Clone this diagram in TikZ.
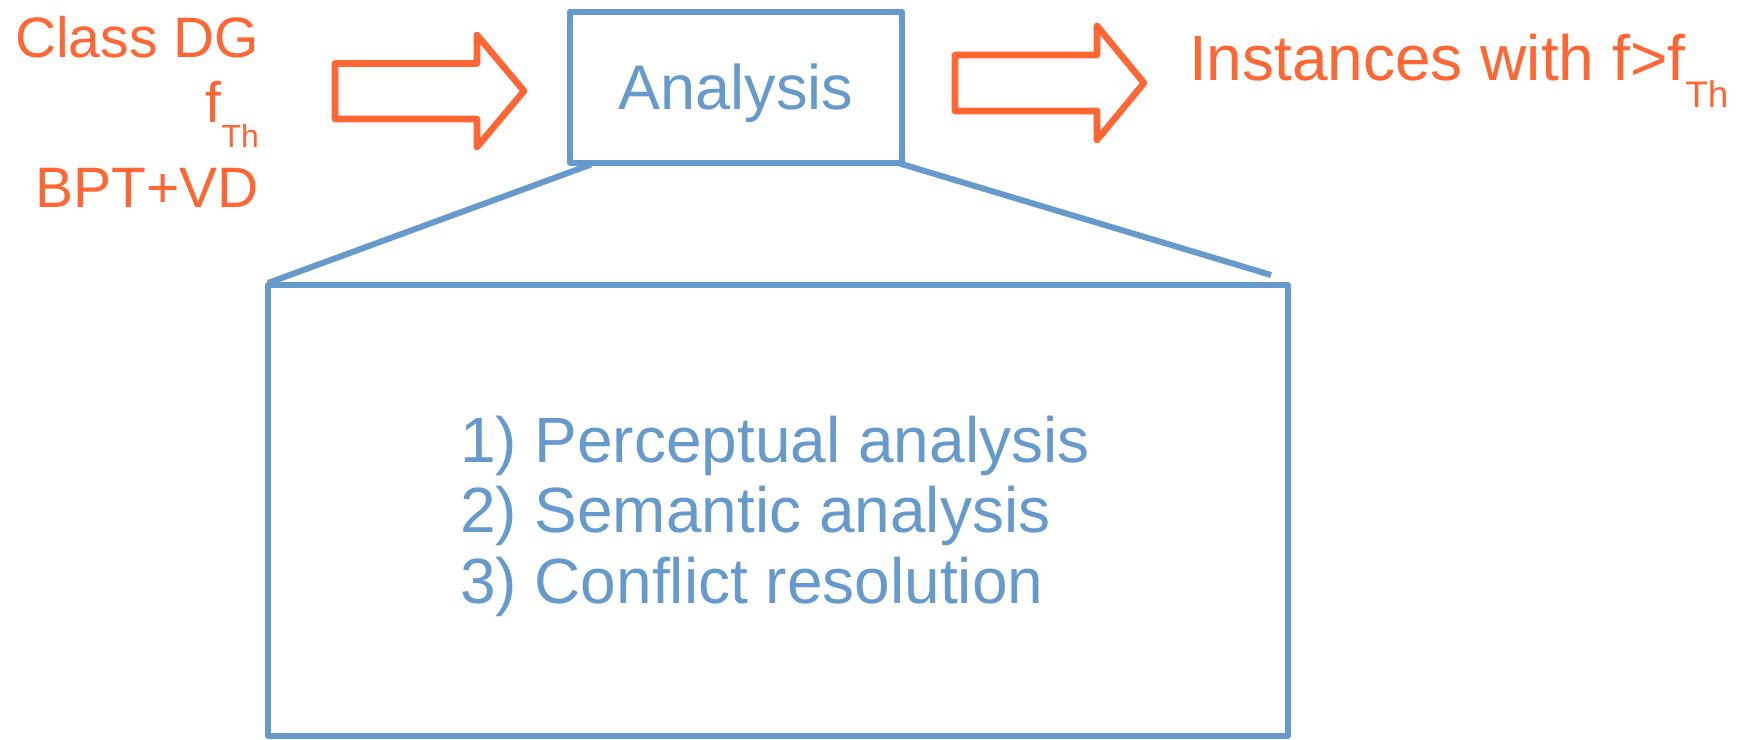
\documentclass[tikz,border=0pt]{standalone}
\usepackage{fontspec}
\setmainfont{Liberation Sans}
\usetikzlibrary{calc}
\definecolor{flow}{HTML}{FF6633}
\definecolor{stage}{HTML}{6699CC}
\tikzset{
  lbl/.style={inner sep=0pt, outer sep=0pt},
  inlabel/.style={lbl, anchor=base east, text=flow, font=\fontsize{28.5pt}{34pt}\selectfont},
  itemlabel/.style={lbl, anchor=base west, text=stage, font=\fontsize{32pt}{36pt}\selectfont},
  flowarrow/.style={draw=flow, line width=3.3pt, line join=round},
  stagebox/.style={draw=stage, line width=3pt, line join=round, inner sep=0pt, outer sep=0pt},
  zoomline/.style={draw=stage, line width=3pt},
}
\begin{document}
\begin{tikzpicture}[x=0.5pt,y=-0.5pt]
\useasboundingbox (0,0) rectangle (1748,739);

% inputs on the left
\node[inlabel] (cls) at (259,57) {Class DG};
\node[inlabel] (fth) at (259,122) {f\raisebox{-12.5pt}{\fontsize{16pt}{16pt}\selectfont Th}};
\node[inlabel] (bpt) at (259,207) {BPT+VD};

% block arrows
\draw[flowarrow] (335,63.5) -- (477,63.5) -- (477,35) -- (524,91) -- (477,147) -- (477,119) -- (335,119) -- cycle;
\draw[flowarrow] (955,55) -- (1097,55) -- (1097,26) -- (1144,83) -- (1097,140) -- (1097,111) -- (955,111) -- cycle;

% analysis stage
\node[stagebox, minimum width=165.75pt, minimum height=75.5pt,
      text=stage, font=\fontsize{31.5pt}{36pt}\selectfont,
      text height=22pt, text depth=0pt] (analysis) at (735.75,87) {Analysis};

% output
\node[lbl, anchor=base west, text=flow, font=\fontsize{32pt}{38pt}\selectfont] (out) at (1189,80)
  {Instances with f>f\raisebox{-13.5pt}{\fontsize{18.5pt}{18.5pt}\selectfont Th}};

% detail box
\node[stagebox, minimum width=510pt, minimum height=225.25pt] (detail) at (778,510.25) {};
\coordinate (zl) at ($(analysis.south west)+(21,2)$);
\coordinate (zr) at ($(analysis.south east)+(-5,0)$);
\coordinate (dl) at ($(detail.north west)+(0,-2)$);
\coordinate (dr) at ($(detail.north east)+(-17,-10)$);
\draw[zoomline] (zl) -- (dl);
\draw[zoomline] (zr) -- (dr);

\node[itemlabel] (s1) at (460,462) {1) Perceptual analysis};
\node[itemlabel] (s2) at (460,532) {2) Semantic analysis};
\node[itemlabel] (s3) at (460,603) {3) Conflict resolution};
\end{tikzpicture}
\end{document}
